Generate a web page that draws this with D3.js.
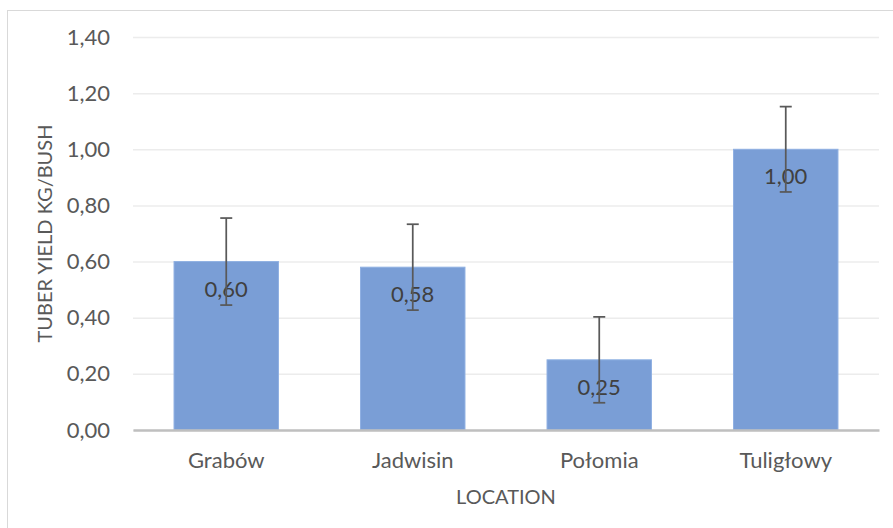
<!DOCTYPE html>
<html>
<head>
<meta charset="utf-8">
<script src="https://cdn.jsdelivr.net/npm/d3@7"></script>
<style>
  body { margin: 0; background: #fff; }
  svg text { font-family: Lato, "Open Sans", sans-serif; }
</style>
</head>
<body>
<svg id="chart" width="893" height="528"></svg>
<script>
// data
const locations = ['Grabów', 'Jadwisin', 'Połomia', 'Tuligłowy']
const yields = [0.60, 0.58, 0.25, 1.00]
const errors = [0.155, 0.153, 0.153, 0.152]
const yTicks = [0, 0.2, 0.4, 0.6, 0.8, 1.0, 1.2, 1.4]

const svg = d3.select('#chart')
const margin = {left: 133, right: 14, top: 37, bottom: 98}
const width = 893, height = 528

// outer frame of the chart
svg.append('rect')
  .attr('x', 7.5).attr('y', 10.5)
  .attr('width', 900).attr('height', 540)
  .attr('fill', 'none').attr('stroke', '#d9d9d9')

const x = d3.scaleBand()
  .domain(locations)
  .range([margin.left, width - margin.right])
  .paddingInner(0.44).paddingOuter(0.22)

const y = d3.scaleLinear()
  .domain([0, 1.4])
  .range([height - margin.bottom, margin.top])

const fmt = d => d3.format('.2f')(d).replace('.', ',')

// gridlines + tick labels
const yAxis = svg.append('g')
  .attr('transform', 'translate(' + margin.left + ',0)')
  .call(d3.axisLeft(y).tickValues(yTicks).tickFormat(fmt)
    .tickSize(-(width - margin.left - margin.right)).tickPadding(23))
yAxis.select('.domain').remove()
yAxis.selectAll('line').attr('stroke', '#ececec').attr('stroke-width', 1.5)
yAxis.selectAll('text').attr('fill', '#595959').attr('font-size', 22)

// bars
svg.selectAll('.bar')
  .data(locations)
  .join('rect')
    .attr('class', 'bar')
    .attr('x', d => x(d))
    .attr('width', x.bandwidth())
    .attr('y', (d, i) => y(yields[i]))
    .attr('height', (d, i) => y(0) - y(yields[i]))
    .attr('fill', '#7a9ed6')
    .attr('stroke', '#8fb0e2').attr('stroke-width', 1)

// baseline
const xAxis = svg.append('g')
  .attr('transform', 'translate(0,' + y(0) + ')')
  .call(d3.axisBottom(x).tickSize(0).tickPadding(22))
xAxis.select('.domain').attr('stroke', '#bfbfbf').attr('stroke-width', 2.5)
xAxis.selectAll('text').attr('fill', '#595959').attr('font-size', 22)

// data labels
svg.selectAll('.lbl')
  .data(locations)
  .join('text')
    .attr('class', 'lbl')
    .attr('x', d => x(d) + x.bandwidth() / 2)
    .attr('y', (d, i) => y(yields[i]) + 35)
    .attr('text-anchor', 'middle')
    .attr('fill', '#404040')
    .attr('font-size', 22)
    .text((d, i) => fmt(yields[i]))

// error bars
const err = svg.selectAll('.err')
  .data(locations)
  .join('g')
    .attr('class', 'err')
    .attr('stroke', '#595959').attr('stroke-width', 1.75)
err.append('line')
  .attr('x1', d => x(d) + x.bandwidth() / 2)
  .attr('x2', d => x(d) + x.bandwidth() / 2)
  .attr('y1', (d, i) => y(yields[i] + errors[i]))
  .attr('y2', (d, i) => y(yields[i] - errors[i]))
err.selectAll('.cap')
  .data((d, i) => [yields[i] + errors[i], yields[i] - errors[i]].map(v => ({d, v})))
  .join('line')
    .attr('x1', c => x(c.d) + x.bandwidth() / 2 - 6)
    .attr('x2', c => x(c.d) + x.bandwidth() / 2 + 6)
    .attr('y1', c => y(c.v))
    .attr('y2', c => y(c.v))

// axis titles
svg.append('text')
  .attr('transform', 'translate(52,' + ((y(0) + y(1.4)) / 2) + ') rotate(-90)')
  .attr('text-anchor', 'middle')
  .attr('fill', '#595959').attr('font-size', 20)
  .text('TUBER YIELD KG/BUSH')

svg.append('text')
  .attr('x', (margin.left + width - margin.right) / 2)
  .attr('y', 504)
  .attr('text-anchor', 'middle')
  .attr('fill', '#595959').attr('font-size', 20)
  .text('LOCATION')
</script>
</body>
</html>
